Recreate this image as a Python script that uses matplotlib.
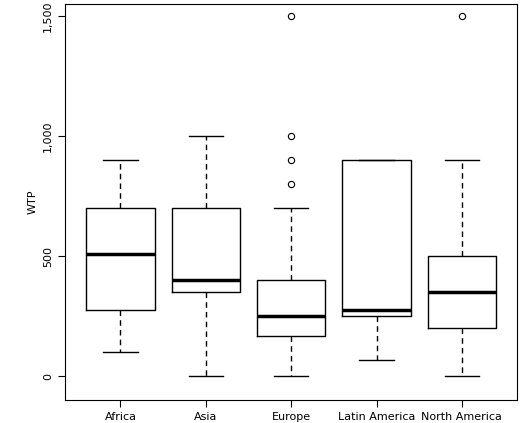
import matplotlib
matplotlib.use("Agg")
import matplotlib.pyplot as plt
from matplotlib.ticker import FuncFormatter

categories = ["Africa", "Asia", "Europe", "Latin America", "North America"]
whislo = [100, 0, 0, 70, 0]
q1 = [275, 350, 170, 250, 200]
med = [510, 400, 250, 275, 350]
q3 = [700, 700, 400, 900, 500]
whishi = [900, 1000, 700, 900, 900]
fliers = [[], [], [800, 900, 1000, 1500], [], [1500]]

stats = [dict(label=c, whislo=a, q1=b, med=m, q3=d, whishi=e, fliers=f)
         for c, a, b, m, d, e, f in zip(categories, whislo, q1, med, q3, whishi, fliers)]

fig = plt.figure(figsize=(5.2, 4.23), dpi=100)
ax = fig.add_axes([0.125, 0.055, 0.87, 0.935])
ax.bxp(stats, widths=0.8, capwidths=0.4, showfliers=True,
       boxprops=dict(color="black", linewidth=1),
       medianprops=dict(color="black", linewidth=2.5),
       whiskerprops=dict(color="black", linewidth=1, linestyle=(0, (4, 3))),
       capprops=dict(color="black", linewidth=1),
       flierprops=dict(marker="o", markerfacecolor="none", markeredgecolor="black",
                       markersize=4.5, markeredgewidth=0.8))
ax.set_ylim(-97, 1550)
ax.set_xlim(0.35, 5.65)
ax.set_yticks([0, 500, 1000, 1500])
ax.yaxis.set_major_formatter(FuncFormatter(lambda v, p: f"{int(v):,}"))
for lab in ax.get_yticklabels():
    lab.set_rotation(90)
    lab.set_va("center")
ax.tick_params(labelsize=8, length=5)
ax.set_ylabel("WTP", fontsize=8)
fig.savefig("out.png", dpi=100)
